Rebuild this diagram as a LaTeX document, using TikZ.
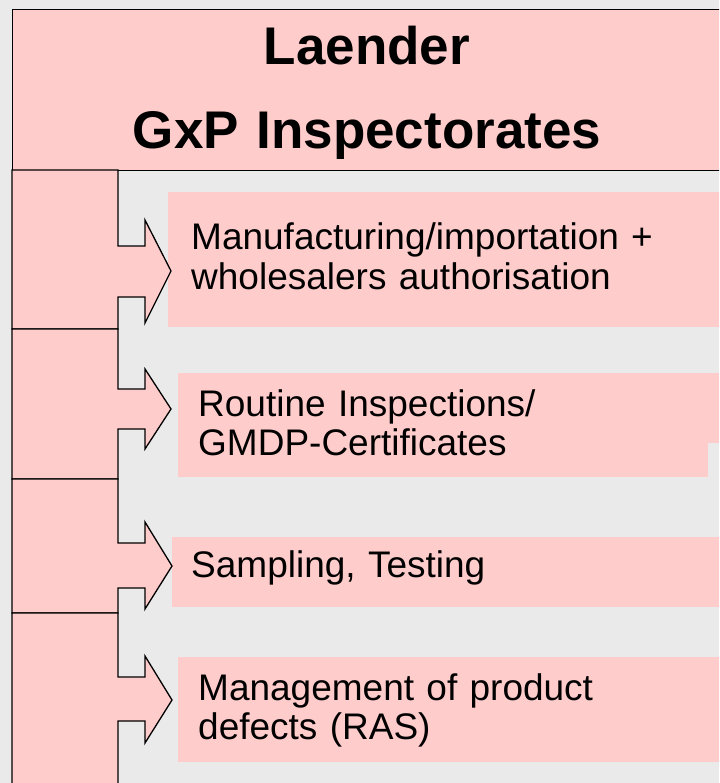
\documentclass[tikz,border=0pt]{standalone}
\usepackage{fontspec}
\setmainfont{Liberation Sans}

\definecolor{pinkfill}{HTML}{FFCCCC}
\definecolor{slidegray}{HTML}{EAEAEA}

\tikzset{
    taskbox/.style={fill=pinkfill, inner sep=0pt, anchor=north west},
    tasktext/.style={anchor=base west, inner sep=0pt, text width=520pt, align=left, font=\fontsize{37}{39.5}\selectfont},
    column/.style={fill=pinkfill, draw=black, line width=1.3pt, line join=miter},
}

\begin{document}
\begin{tikzpicture}[x=1pt, y=-1pt]

    \fill[slidegray] (0,0) rectangle (719,783); % slide background
    \useasboundingbox (0,0) rectangle (719,783);
    \clip (0,0) rectangle (719,783);

    % header with the two title lines
    \node [draw=black, line width=0.9pt, fill=pinkfill, anchor=north west, inner sep=0pt, minimum width=710pt, minimum height=161pt] (header) at (12,9) {};
    \node [anchor=base, inner sep=0pt, text width=700pt, align=center, font=\bfseries\fontsize{53}{84}\selectfont] (title) at (367,65) {Laender\\GxP Inspectorates};

    % pink task boxes
    \node [taskbox, minimum width=560pt, minimum height=135pt] (manuf) at (168,192) {}; % authorisation box
    \node [taskbox, minimum width=530pt, minimum height=104pt] (routine) at (178,373) {}; % inspections box
    \fill [pinkfill] (routine.north east) rectangle (722,443); % pink strip right of it
    \node [taskbox, minimum width=555pt, minimum height=70pt] (sampling) at (172,537) {}; % sampling box
    \node [taskbox, minimum width=550pt, minimum height=105pt] (defects) at (178,657) {}; % defects box

    \node [tasktext] (manuftext) at (191,250) {Manufacturing/importation +\\wholesalers authorisation};
    \node [tasktext] (routinetext) at (198,416) {Routine Inspections/\\GMDP-Certificates};
    \node [tasktext] (samplingtext) at (191,577) {Sampling, Testing};
    \node [tasktext] (defectstext) at (198,700) {Management of product\\defects (RAS)};

    % left column, one block arrow per task
    \draw [column] (12,170) -- (118,170) -- (118,246) -- (145,246) -- (145,220) -- (171,271) -- (145,323) -- (145,297) -- (118,297) -- (118,329) -- (12,329) -- cycle; % arrow 1
    \draw [column] (12,329) -- (118,329) -- (118,389) -- (145,389) -- (145,369) -- (171,409) -- (145,449) -- (145,429) -- (118,429) -- (118,479) -- (12,479) -- cycle; % arrow 2
    \draw [column] (12,479) -- (118,479) -- (118,543) -- (145,543) -- (145,522) -- (172,566) -- (145,609) -- (145,588) -- (118,588) -- (118,613) -- (12,613) -- cycle; % arrow 3
    \draw [column] (12,613) -- (118,613) -- (118,677) -- (145,677) -- (145,656) -- (172,700) -- (145,743) -- (145,721) -- (118,721) -- (118,800) -- (12,800) -- cycle; % arrow 4, runs off the bottom

\end{tikzpicture}
\end{document}
